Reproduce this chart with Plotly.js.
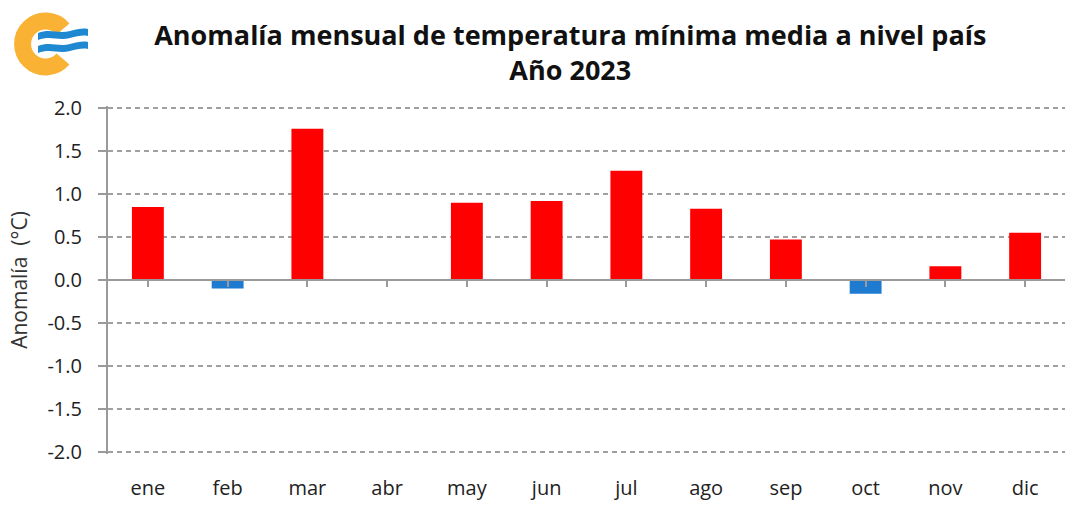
<!DOCTYPE html>
<html><head><meta charset="utf-8">
<script src="https://cdn.plot.ly/plotly-3.0.1.min.js"></script>
<style>body{margin:0;background:#fff}#wrap{position:relative;width:1072px;height:506px}#chart{width:1072px;height:506px}#logo{position:absolute;left:0;top:0}</style>
</head><body>
<div id="wrap"><div id="chart"></div>
<svg id="logo" width="100" height="85" viewBox="0 0 100 85">
  <path d="M63,29 A23,23 0 1 0 63,59" fill="none" stroke="#F9B233" stroke-width="17"/>
  <path d="M38,33 C50,28 58,34 70,31 C77,29 83,28 88,29 L88,36 C83,35 77,36 70,38 C58,41 50,35 38,40 Z" fill="#1E88D0"/>
  <path d="M38,46 C50,41 58,47 70,44 C77,42 83,41 88,42 L88,49 C83,48 77,49 70,51 C58,54 50,48 38,53 Z" fill="#1E88D0"/>
</svg>
</div>
<script>
const months = ["ene","feb","mar","abr","may","jun","jul","ago","sep","oct","nov","dic"];
const anomalies = [0.85, -0.10, 1.76, 0.0, 0.90, 0.92, 1.27, 0.83, 0.47, -0.16, 0.16, 0.55];
const yTicks = [-2.0, -1.5, -1.0, -0.5, 0.0, 0.5, 1.0, 1.5, 2.0];

const colors = anomalies.map(v => v < 0 ? "#1F7BD0" : "#FF0000");
const font = "'Open Sans', sans-serif";

const traces = [
  {type:"bar", x:months, y:anomalies, marker:{color:colors, line:{width:0}}, width:0.4, hoverinfo:"x+y"},
  {type:"bar", x:months, y:months.map(()=>0), xaxis:"x2", marker:{color:"rgba(0,0,0,0)"}, hoverinfo:"skip", showlegend:false}
];

const layout = {
  width:1072, height:506,
  margin:{l:108, r:7, t:106, b:52},
  paper_bgcolor:"#fff", plot_bgcolor:"#fff",
  showlegend:false,
  title:{text:"<b>Anomalía mensual de temperatura mínima media a nivel país<br>Año 2023</b>",
    font:{family:font, size:27, color:"#111"}, x:0.532, xanchor:"center", yref:"container", y:0.912, yanchor:"middle"},
  xaxis:{type:"category", categoryarray:months, range:[-0.5,11.5], showline:false, ticks:"",
    showgrid:false, zeroline:false, tickfont:{family:font, size:20, color:"#222"}, ticklabelstandoff:20},
  xaxis2:{type:"category", categoryarray:months, range:[-0.5,11.5], overlaying:"x", anchor:"free", position:0.5,
    showline:true, linecolor:"#9a9a9a", linewidth:2, ticks:"outside", ticklen:6, tickcolor:"#9a9a9a", tickwidth:2,
    showticklabels:false, showgrid:false, zeroline:false},
  yaxis:{range:[-2.025,2.025], tickvals:yTicks, ticktext:yTicks.map(v=>v.toFixed(1)),
    showline:true, linecolor:"#9a9a9a", linewidth:2, ticks:"outside", ticklen:8, tickcolor:"#9a9a9a", tickwidth:1.5,
    showgrid:true, gridcolor:"#a0a0a0", griddash:"5px,4px", gridwidth:2, zeroline:false,
    tickfont:{family:font, size:20, color:"#222"}, ticklabelstandoff:12,
    title:{text:"Anomalía  (°C)", font:{family:font, size:21, color:"#333"}, standoff:14}}
};
Plotly.newPlot("chart", traces, layout, {displayModeBar:false, staticPlot:true});
</script>
</body></html>
